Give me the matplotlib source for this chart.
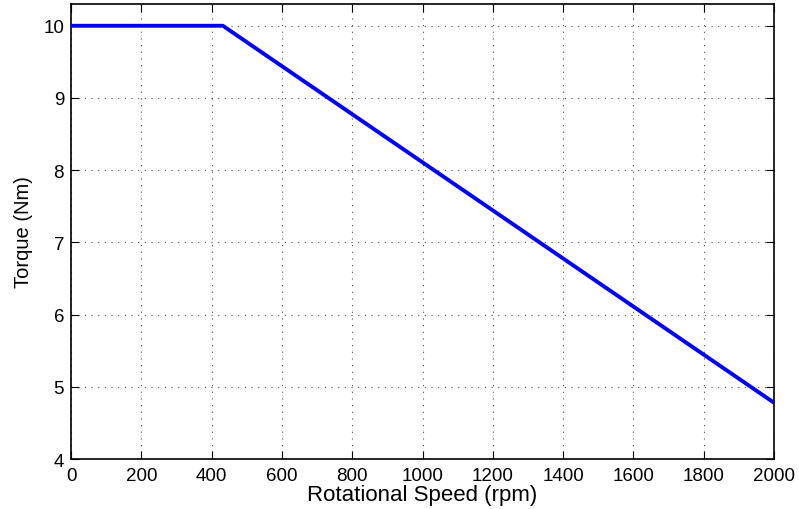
import matplotlib
matplotlib.use("Agg")
import matplotlib.pyplot as plt

plt.rcParams['font.family'] = ['Liberation Sans', 'DejaVu Sans']

speed_rpm = [0, 432, 2000]
torque_nm = [10.0, 10.0, 4.78]
x_ticks = [0, 200, 400, 600, 800, 1000, 1200, 1400, 1600, 1800, 2000]
y_ticks = [4, 5, 6, 7, 8, 9, 10]

fig = plt.figure(figsize=(7.99, 5.10), dpi=100)
ax = fig.add_axes([0.0889, 0.098, 0.8798, 0.892])
ax.plot(speed_rpm, torque_nm, color='#0000ff', linewidth=2.8, solid_capstyle='butt', zorder=3)
ax.set_xlim(0, 2000)
ax.set_ylim(4, 10.3)
ax.set_xticks(x_ticks)
ax.set_yticks(y_ticks)
ax.grid(True, linestyle=(0, (1, 5)), color='black', linewidth=0.8, alpha=0.7)
ax.tick_params(direction='in', length=6, width=0.8, labelsize=13.5, top=True, right=True)
ax.tick_params(axis='x', pad=6)
ax.tick_params(axis='y', pad=5)
for s in ax.spines.values():
    s.set_linewidth(1.2)
ax.set_xlabel('Rotational Speed (rpm)', fontsize=16, labelpad=0)
ax.set_ylabel('Torque (Nm)', fontsize=14.5, labelpad=7)
fig.savefig('out.png', dpi=100)
